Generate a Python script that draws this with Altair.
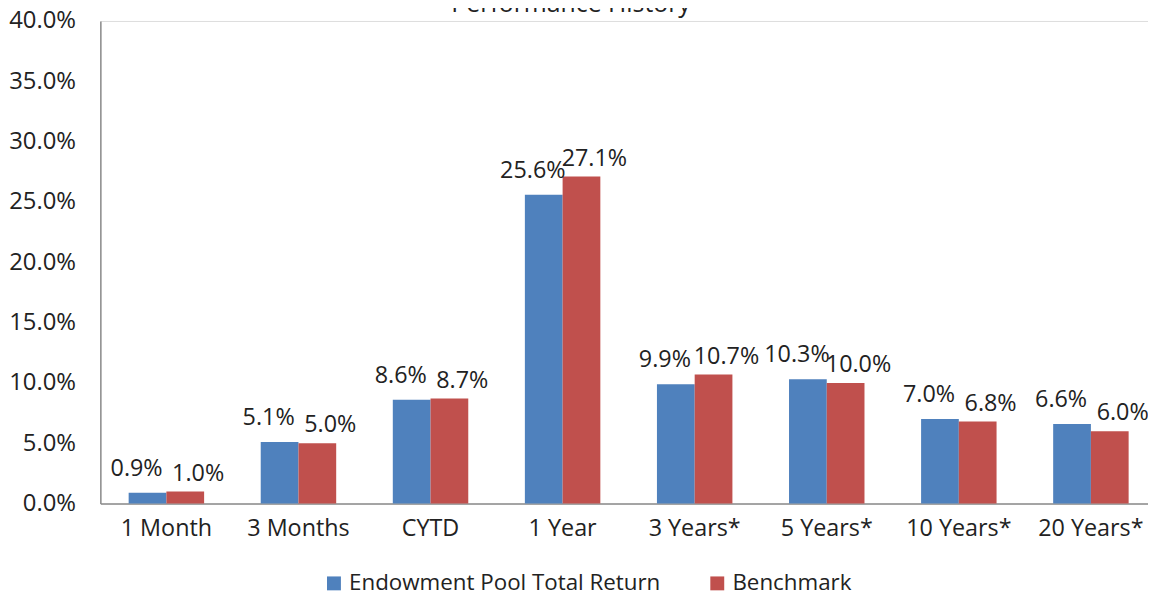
import altair as alt
import pandas as pd

categories = ["1 Month", "3 Months", "CYTD", "1 Year", "3 Years*", "5 Years*", "10 Years*", "20 Years*"]
series_names = ["Endowment Pool Total Return", "Benchmark"]
endowment = [0.9, 5.1, 8.6, 25.6, 9.9, 10.3, 7.0, 6.6]
benchmark = [1.0, 5.0, 8.7, 27.1, 10.7, 10.0, 6.8, 6.0]
colors = ["#4F81BD", "#C0504D"]
y_ticks = [0, 0.05, 0.10, 0.15, 0.20, 0.25, 0.30, 0.35, 0.40]
title_text = "Performance History"

rows = []
for i, c in enumerate(categories):
    rows.append({"cat": c, "series": series_names[0], "value": endowment[i] / 100})
    rows.append({"cat": c, "series": series_names[1], "value": benchmark[i] / 100})
df = pd.DataFrame(rows)

FONT = "Open Sans"
TXT = "#222222"
FS = 23.5

x_scale = alt.Scale(domain=categories, range=[0, 1064], paddingInner=0.4286, paddingOuter=0.2143)
xo_scale = alt.Scale(domain=series_names)
y_scale = alt.Scale(domain=[0, 0.4])

x_enc = alt.X("cat:N", scale=x_scale, sort=categories,
              axis=alt.Axis(title=None, labelAngle=0, ticks=False, labelFontSize=FS, labelFont=FONT,
                            labelColor=TXT, labelPadding=13, domainColor="#8c8c8c", domainWidth=1.5))
xo_enc = alt.XOffset("series:N", scale=xo_scale)
y_enc = alt.Y("value:Q", scale=y_scale,
              axis=alt.Axis(title=None, format=".1%", values=y_ticks, grid=False, ticks=False,
                            labelFontSize=24, labelFont=FONT, labelColor=TXT, labelPadding=25,
                            domainColor="#8c8c8c", domainWidth=1.5))

base = alt.Chart(df)

bars = base.mark_bar().encode(
    x=x_enc, xOffset=xo_enc, y=y_enc,
    color=alt.Color("series:N", scale=alt.Scale(domain=series_names, range=colors),
                    legend=alt.Legend(orient="none", legendX=224, legendY=555, direction="horizontal",
                                      title=None, symbolType="square", symbolSize=196, symbolStrokeWidth=0,
                                      labelFontSize=22.5, labelFont=FONT, labelColor=TXT, labelOffset=4,
                                      labelLimit=0, columnPadding=45)),
)

lab_blue = base.transform_filter(alt.datum.series == series_names[0]).mark_text(
    dx=-11, dy=-17, baseline="alphabetic", fontSize=FS, font=FONT, color=TXT
).encode(x=x_enc, xOffset=xo_enc, y=y_enc, text=alt.Text("value:Q", format=".1%"))

lab_red = base.transform_filter(alt.datum.series == series_names[1]).mark_text(
    dx=13, dy=-11, baseline="alphabetic", fontSize=FS, font=FONT, color=TXT
).encode(x=x_enc, xOffset=xo_enc, y=y_enc, text=alt.Text("value:Q", format=".1%"))

title = alt.Chart(pd.DataFrame({"t": [title_text]})).mark_text(
    fontSize=25, font=FONT, color=TXT, baseline="alphabetic", align="center"
).encode(x=alt.value(474), y=alt.value(-9), text="t:N")

chart = alt.layer(bars, lab_blue, lab_red, title).properties(
    width=1055, height=486,
    autosize=alt.AutoSizeParams(type="none"),
    padding={"left": 93, "top": 11, "right": 0, "bottom": 88},
).configure_view(stroke=None).configure(background="white")

chart.save("out.html", embed_options={"renderer": "svg", "actions": False})
